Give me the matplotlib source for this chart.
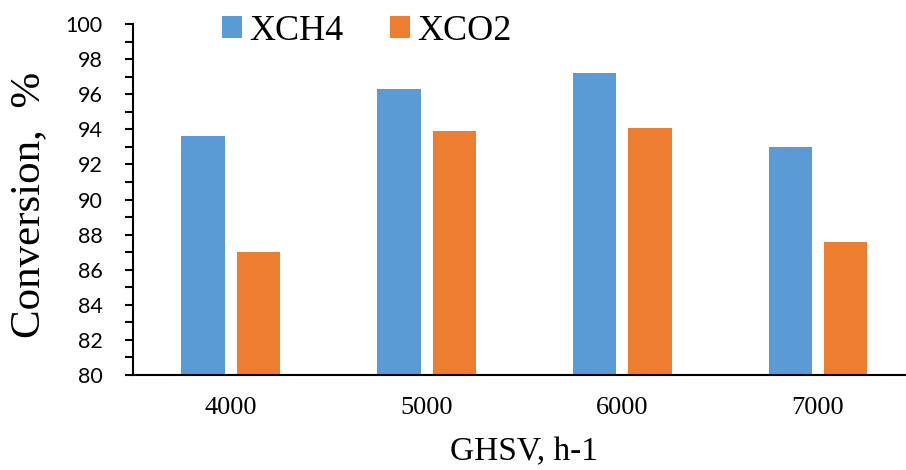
import matplotlib.pyplot as plt
import numpy as np

# GHSV categories and conversions (%)
ghsv = ["4000", "5000", "6000", "7000"]
xch4 = [93.6, 96.3, 97.2, 93.0]
xco2 = [87.0, 93.9, 94.1, 87.6]

blue = "#5B9BD5"
orange = "#ED7D31"
serif = ["Liberation Serif", "DejaVu Serif"]

fig = plt.figure(figsize=(9.06, 4.70), dpi=100)
# plot area runs a little past the right edge, as in the cropped original
ax = fig.add_axes([0.1468, 0.2021, 0.864, 0.7468])

x = np.arange(len(ghsv))
w = 0.222
off = 0.1415
ax.bar(x - off, xch4, width=w, color=blue, label="XCH4", zorder=2)
ax.bar(x + off, xco2, width=w, color=orange, label="XCO2", zorder=2)

ax.set_xlim(-0.5, 3.5)
ax.set_ylim(80, 100)
ax.set_xticks(x)
ax.set_xticklabels(ghsv)
ax.tick_params(axis="x", length=0, pad=16, labelsize=19, labelfontfamily="Liberation Serif")

ax.set_yticks(np.arange(80, 101, 2))
ax.set_yticks(np.arange(81, 100, 2), minor=True)
ax.tick_params(axis="y", which="both", direction="out", length=6, width=1.5, pad=16,
               labelsize=15.5, labelfontfamily="Lato")

for s in ["top", "right"]:
    ax.spines[s].set_visible(False)
for s in ["left", "bottom"]:
    ax.spines[s].set_linewidth(1.5)

ax.set_ylabel("Conversion,  %", fontfamily=serif, fontsize=31)
ax.yaxis.set_label_coords(-0.108, 0.484)
ax.set_xlabel("GHSV, h-1", fontfamily=serif, fontsize=24)
ax.xaxis.set_label_coords(0.5, -0.176)

ax.legend(loc="center", bbox_to_anchor=(0.299, 0.98), ncol=2, frameon=False,
          prop={"family": serif, "size": 26}, handlelength=0.55, handleheight=0.55,
          handletextpad=0.2, columnspacing=1.3, borderpad=0)

plt.savefig("out.png", dpi=100)
